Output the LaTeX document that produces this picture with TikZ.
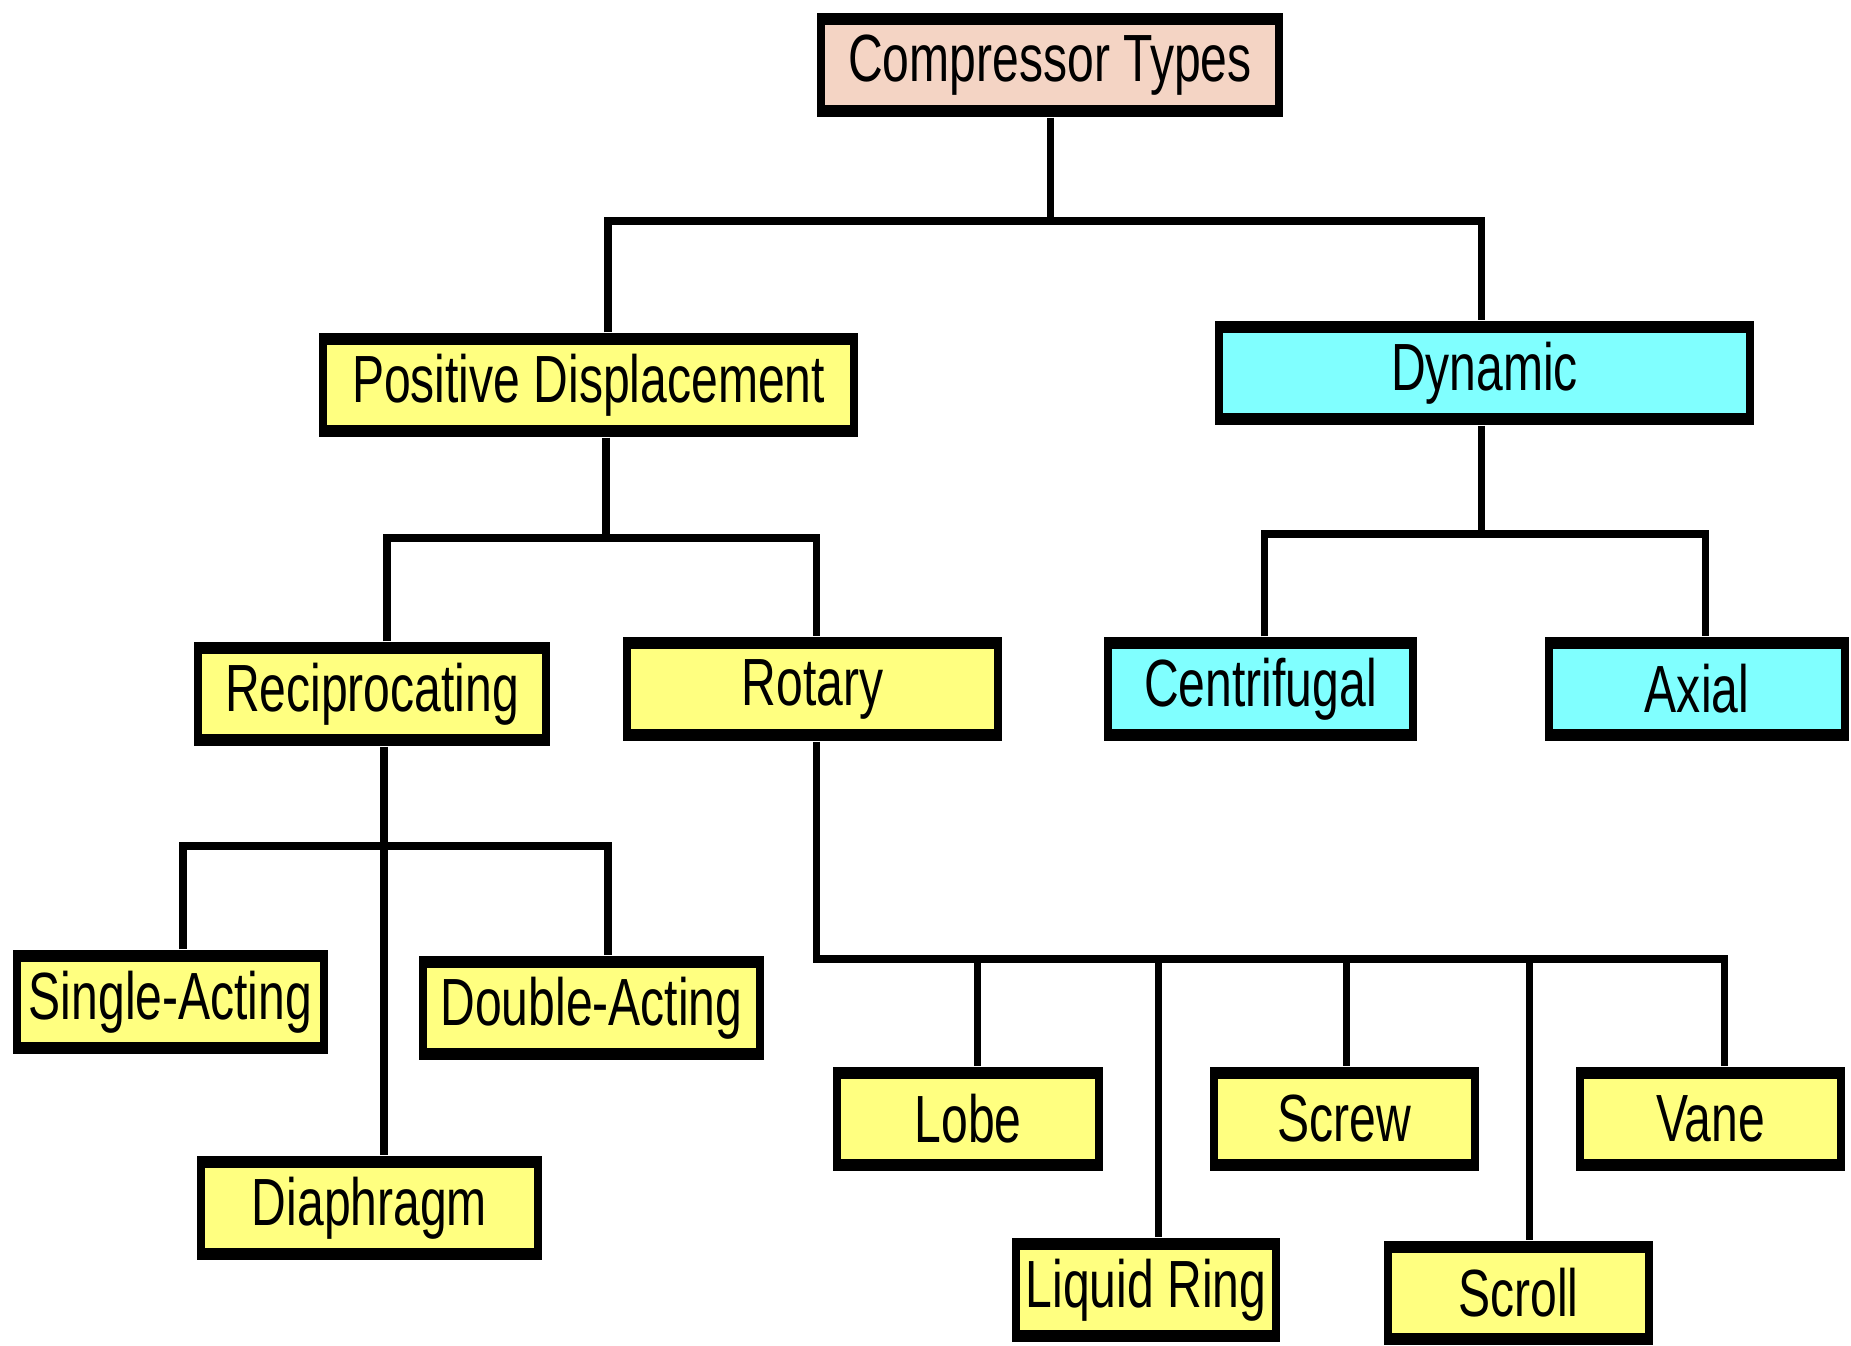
\documentclass[tikz,border=0pt]{standalone}
\usepackage{fontspec}
\newfontfamily\boxfont{Liberation Sans}[FakeStretch=0.72]
\definecolor{boxyellow}{HTML}{FFFF80}
\definecolor{boxcyan}{HTML}{80FFFF}
\definecolor{boxpeach}{HTML}{F4D4C4}
\tikzset{
  box/.style={fill=black, inner sep=0pt, minimum height=1.04cm,
    font=\boxfont\fontsize{19}{22}\selectfont,
    path picture={\fill[#1] ([shift={(0.08,0.12)}]path picture bounding box.south west)
      rectangle ([shift={(-0.08,-0.12)}]path picture bounding box.north east);}},
  ybox/.style={box=boxyellow},
  cbox/.style={box=boxcyan},
  pbox/.style={box=boxpeach},
  link/.style={line width=2pt}
}
\begin{document}
\begin{tikzpicture}
\useasboundingbox (0,0) rectangle (18.51,-13.46);
% boxes
\node[pbox, minimum width=4.66cm] (root) at (10.50,-0.65) {Compressor Types};
\node[ybox, minimum width=5.39cm] (pd) at (5.885,-3.85) {Positive Displacement};
\node[cbox, minimum width=5.39cm] (dyn) at (14.845,-3.73) {Dynamic};
\node[ybox, minimum width=3.56cm] (recip) at (3.72,-6.94) {Reciprocating};
\node[ybox, minimum width=3.79cm] (rot) at (8.125,-6.89) {Rotary};
\node[cbox, minimum width=3.13cm] (cent) at (12.605,-6.89) {Centrifugal};
\node[cbox, minimum width=3.04cm] (axial) at (16.97,-6.89) {Axial};
\node[ybox, minimum width=3.15cm] (single) at (1.705,-10.02) {Single-Acting};
\node[ybox, minimum width=3.45cm] (double) at (5.915,-10.08) {Double-Acting};
\node[ybox, minimum width=3.45cm] (diaph) at (3.695,-12.08) {Diaphragm};
\node[ybox, minimum width=2.70cm] (lobe) at (9.68,-11.19) {Lobe};
\node[ybox, minimum width=2.69cm] (screw) at (13.445,-11.19) {Screw};
\node[ybox, minimum width=2.69cm] (vane) at (17.105,-11.19) {Vane};
\node[ybox, minimum width=2.68cm] (liquid) at (11.46,-12.90) {Liquid Ring};
\node[ybox, minimum width=2.69cm] (scroll) at (15.185,-12.93) {Scroll};
% branch points
\coordinate (b1l) at (6.08,-2.21);
\coordinate (b1r) at (14.81,-2.21);
\coordinate (b2) at (6.06,-5.38);
\coordinate (b2l) at (3.87,-5.38);
\coordinate (b2r) at (8.16,-5.38);
\coordinate (b3) at (14.81,-5.34);
\coordinate (b3l) at (12.64,-5.34);
\coordinate (b3r) at (17.05,-5.34);
\coordinate (b4) at (3.84,-8.46);
\coordinate (b4l) at (1.83,-8.46);
\coordinate (b4r) at (6.08,-8.46);
\coordinate (b5) at (8.16,-9.59);
\coordinate (d1) at (9.77,-9.59);
\coordinate (d2) at (11.58,-9.59);
\coordinate (d3) at (13.46,-9.59);
\coordinate (d4) at (15.29,-9.59);
\coordinate (d5) at (17.24,-9.59);
% connectors
\draw[link] (root.south) -- (root.south |- b1l);
\draw[link] (pd.north -| b1l) -- (b1l) -- (b1r) -- (dyn.north -| b1r);
\draw[link] (pd.south -| b2) -- (b2);
\draw[link] (recip.north -| b2l) -- (b2l) -- (b2r) -- (rot.north -| b2r);
\draw[link] (dyn.south -| b3) -- (b3);
\draw[link] (cent.north -| b3l) -- (b3l) -- (b3r) -- (axial.north -| b3r);
\draw[link] (recip.south -| b4) -- (diaph.north -| b4);
\draw[link] (single.north -| b4l) -- (b4l) -- (b4r) -- (double.north -| b4r);
\draw[link] (rot.south -| b5) -- (b5) -- (d5) -- (vane.north -| d5);
\draw[link] (d1) -- (lobe.north -| d1);
\draw[link] (d2) -- (liquid.north -| d2);
\draw[link] (d3) -- (screw.north -| d3);
\draw[link] (d4) -- (scroll.north -| d4);
\end{tikzpicture}
\end{document}
